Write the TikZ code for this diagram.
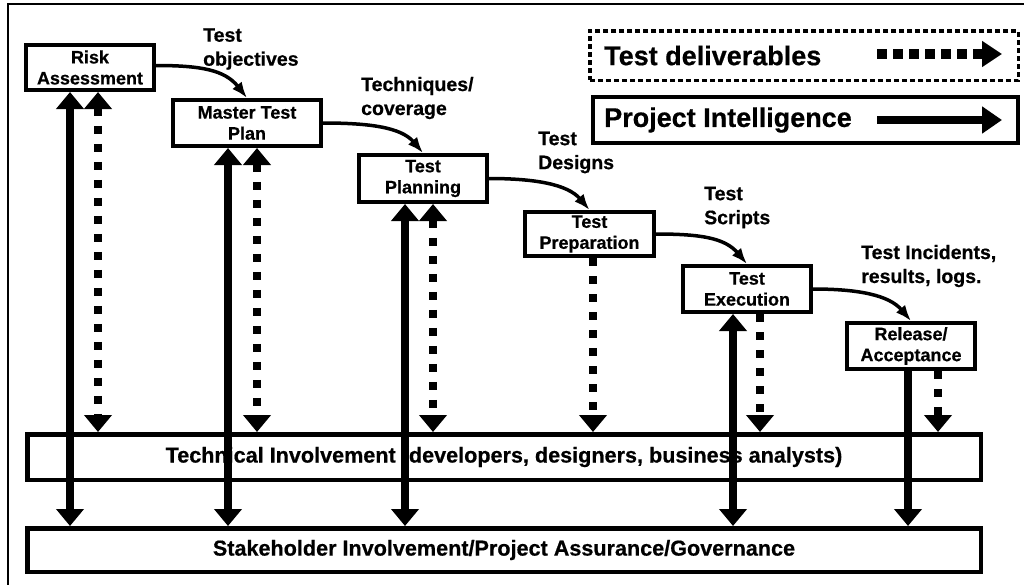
\documentclass[tikz,border=0pt]{standalone}
\usepackage{fontspec}
\setmainfont{Liberation Sans}[BoldFeatures={FakeBold=0.6}]
\usetikzlibrary{arrows.meta}
\begin{document}
\begin{tikzpicture}[x=1pt,y=-1pt,
  pbox/.style={draw, line width=4pt, inner sep=0pt, align=center,
    minimum width=128pt, minimum height=45pt,
    font=\fontsize{18}{21}\selectfont\bfseries},
  wbox/.style={draw, line width=4.5pt, inner sep=0pt, align=center,
    minimum width=953.5pt, minimum height=44pt,
    font=\fontsize{21.6}{24}\selectfont\bfseries},
  lbl/.style={anchor=west, align=left, inner sep=0pt,
    font=\fontsize{19.5}{24}\selectfont\bfseries},
  legtxt/.style={anchor=west, inner sep=0pt,
    font=\fontsize{27}{30}\selectfont\bfseries},
  curv/.style={line width=3.5pt, -{Latex[length=16pt,width=12pt]}},
  sol2/.style={line width=8.5pt,
    {Triangle[length=17pt,width=27pt]}-{Triangle[length=17pt,width=27pt]}},
  sol1/.style={line width=8.5pt, -{Triangle[length=17pt,width=27pt]}},
  dsh2/.style={line width=8pt, dash pattern=on 8pt off 10pt,
    {Triangle[length=17pt,width=27pt]}-{Triangle[length=17pt,width=27pt]}},
  dsh1/.style={line width=8pt, dash pattern=on 8pt off 10pt,
    -{Triangle[length=17pt,width=27pt]}}
]
\useasboundingbox (0,0) rectangle (1024,584);
% outer frame
\draw[line width=2.5pt] (8,590) -- (8,4) -- (1030,4);

% wide boxes
\node[wbox, minimum height=45.5pt] (tech) at (504,457) {Technical Involvement (developers, designers, business analysts)};
\node[wbox, minimum height=43.5pt] (stake) at (504,550) {Stakeholder Involvement/Project Assurance/Governance};

% process boxes
\node[pbox] (risk) at (90,67.5) {Risk\\Assessment};
\node[pbox, minimum width=148pt, minimum height=46pt] (master) at (247,123) {Master Test\\Plan};
\node[pbox, minimum height=47pt] (plan) at (423,178.5) {Test\\Planning};
\node[pbox, minimum width=129pt, minimum height=44pt] (prep) at (589.5,234) {Test\\Preparation};
\node[pbox, minimum height=46pt] (exec) at (747,289) {Test\\Execution};
\node[pbox, minimum height=46pt] (rel) at (911,346) {Release/\\Acceptance};

% legend
\node[draw, line width=3.5pt, dash pattern=on 5pt off 3pt, minimum width=428.5pt,
  minimum height=49.5pt, inner sep=0pt] (leg1) at (804,55.5) {};
\node[draw, line width=4pt, minimum width=425pt, minimum height=46pt,
  inner sep=0pt] (leg2) at (805.5,120) {};
\node[legtxt] (lt1) at ([xshift=16pt]leg1.west) {Test deliverables};
\node[legtxt] (lt2) at ([xshift=13pt]leg2.west) {Project Intelligence};
\coordinate (la1) at ([xshift=73pt,yshift=1.5pt]leg1.center);
\coordinate (lb1) at ([xshift=198pt,yshift=1.5pt]leg1.center);
\coordinate (la2) at ([xshift=71.5pt]leg2.center);
\coordinate (lb2) at ([xshift=196.5pt]leg2.center);
\draw[line width=10pt, dash pattern=on 10pt off 6pt,
  -{Triangle[length=20pt,width=25pt]}] (la1) -- (lb1);
\draw[line width=8pt, -{Triangle[length=20pt,width=26pt]}] (la2) -- (lb2);

% labels
\node[lbl] (l1) at (203,49) {Test\\objectives};
\node[lbl] (l2) at (361,98) {Techniques/\\coverage};
\node[lbl] (l3) at (538,152.5) {Test\\Designs};
\node[lbl] (l4) at (704,207.5) {Test\\Scripts};
\node[lbl] (l5) at (861,266) {Test Incidents,\\results, logs.};

% curved flow arrows
\draw[curv] ([yshift=2pt]risk.east) .. controls +(45,0) and +(-22,-28) .. (master.north);
\draw[curv] (master.east) .. controls +(45,0) and +(-22,-26) .. (plan.north);
\draw[curv] (plan.east) .. controls +(45,0) and +(-22,-26) .. (prep.north);
\draw[curv] (prep.east) .. controls +(45,0) and +(-22,-26) .. (exec.north);
\draw[curv] (exec.east) .. controls +(45,0) and +(-22,-26) .. (rel.north);

% vertical connectors
\coordinate (rs) at ([xshift=-20pt]risk.south);
\coordinate (rd) at ([xshift=8pt]risk.south);
\coordinate (ms) at ([xshift=-19pt]master.south);
\coordinate (md) at ([xshift=10pt]master.south);
\coordinate (ps) at ([xshift=-18pt]plan.south);
\coordinate (pd) at ([xshift=10pt]plan.south);
\coordinate (qd) at ([xshift=3.5pt]prep.south);
\coordinate (es) at ([xshift=-14pt]exec.south);
\coordinate (ed) at ([xshift=13pt]exec.south);
\coordinate (as) at ([xshift=-3pt]rel.south);
\coordinate (ad) at ([xshift=27pt]rel.south);

\draw[sol2] (rs) -- (rs |- stake.north);
\draw[sol2] (ms) -- (ms |- stake.north);
\draw[sol2] (ps) -- (ps |- stake.north);
\draw[sol2] (es) -- (es |- stake.north);
\draw[sol1] (as) -- (as |- stake.north);

\draw[dsh2] (rd) -- (rd |- tech.north);
\draw[dsh2] (md) -- (md |- tech.north);
\draw[dsh2] (pd) -- (pd |- tech.north);
\draw[dsh1] (qd) -- (qd |- tech.north);
\draw[dsh1] (ed) -- (ed |- tech.north);
\draw[dsh1] (ad) -- (ad |- tech.north);
\end{tikzpicture}
\end{document}
